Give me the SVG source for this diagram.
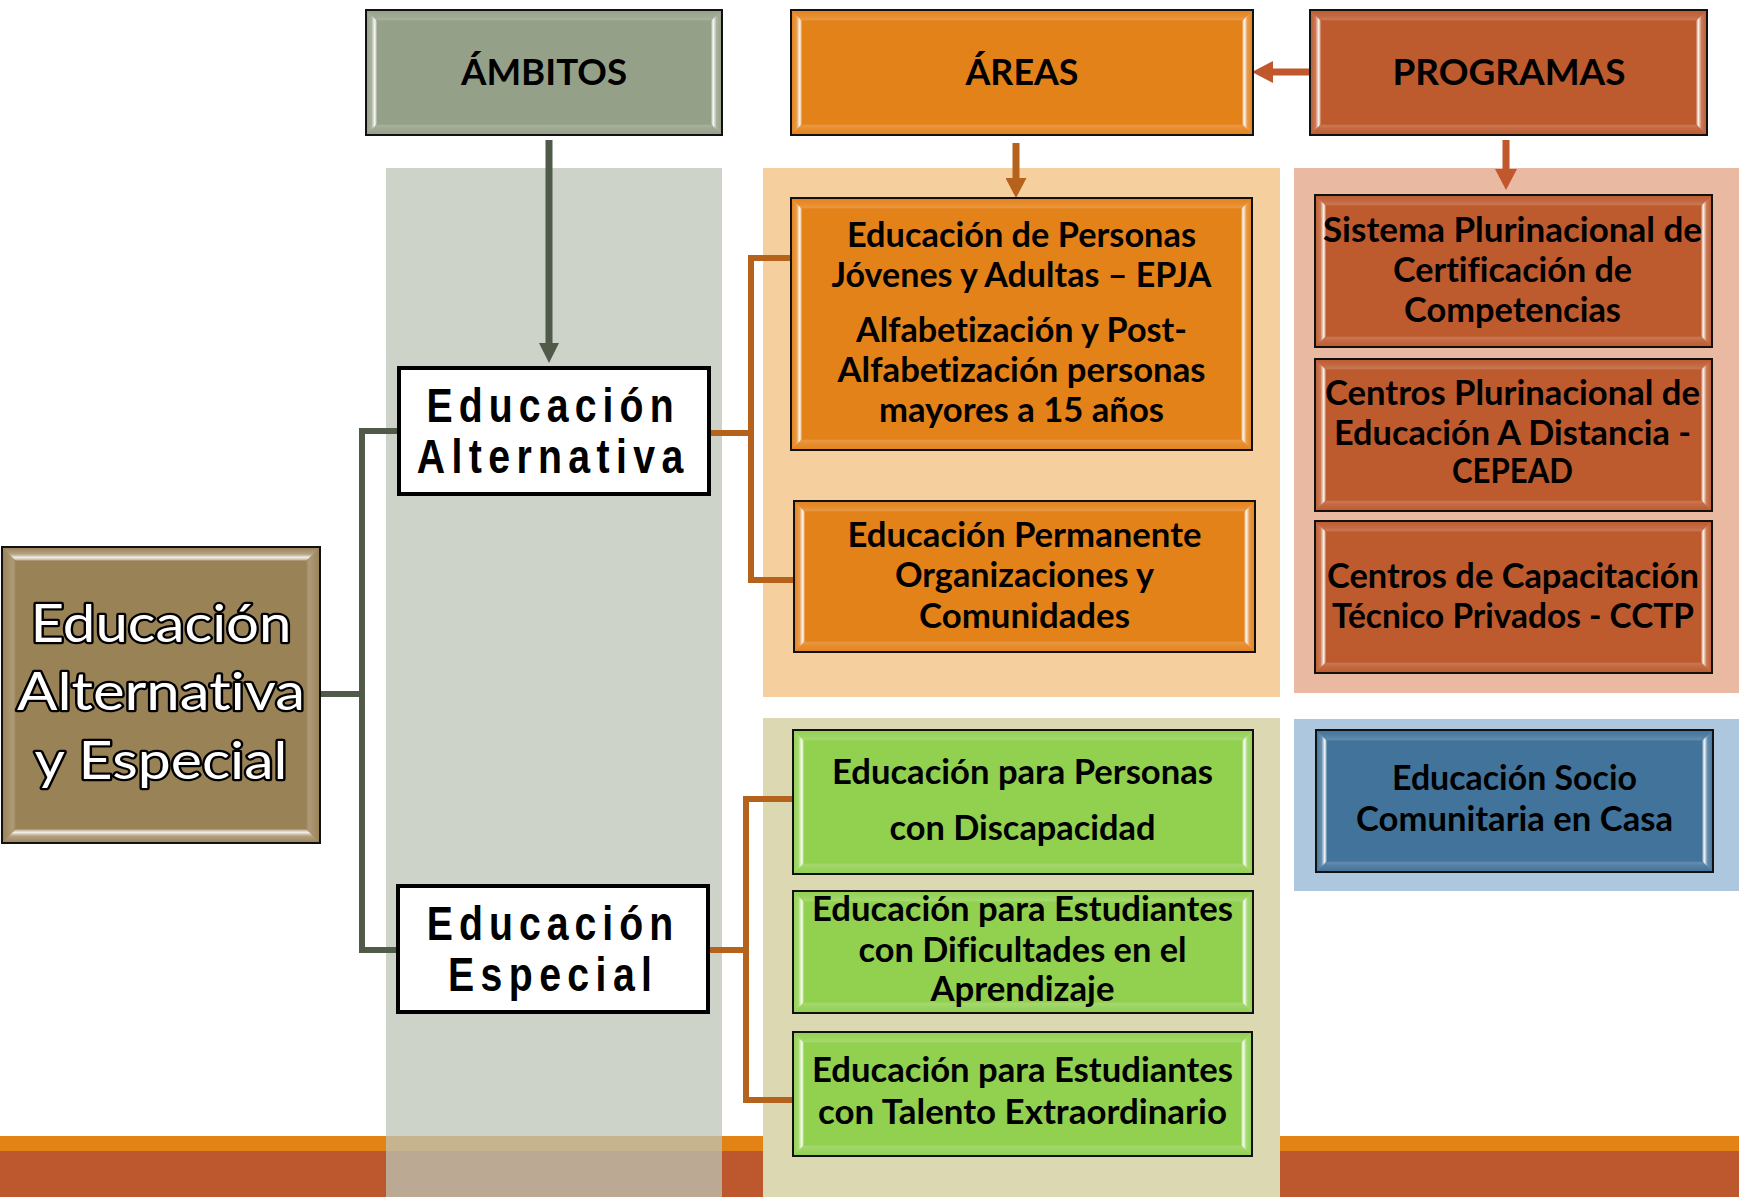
<svg xmlns="http://www.w3.org/2000/svg" width="1739" height="1197" viewBox="0 0 1739 1197">
<style>
.t{font-family:Lato,"Liberation Sans",sans-serif;font-weight:700;font-size:34px;text-anchor:middle;fill:#000;font-variant-ligatures:none;font-feature-settings:"liga" 0,"clig" 0,"dlig" 0,"calt" 0}
.h{font-size:37px}
.big{font-weight:400;font-size:53px;fill:#fff;stroke:#000;stroke-width:4.5px;paint-order:stroke;stroke-linejoin:round}
.e{font-family:"Liberation Sans",Arial,sans-serif;font-weight:700;font-size:49px;text-anchor:middle;fill:#000}
.ol{fill:none;stroke:#111;stroke-width:2}
.wb{fill:#fff;stroke:#000;stroke-width:4}
.bl{fill:url(#gL)}.br{fill:url(#gR)}.bt{fill:url(#gT)}.bb{fill:url(#gB)}
.sbl{fill:url(#gLw)}.sbr{fill:url(#gRw)}.sbt{fill:url(#gTs)}.sbb{fill:url(#gBs)}
.cg{fill:none;stroke:#4f5a48;stroke-width:6}
.co{fill:none;stroke:#b4621c;stroke-width:6}
.cr{fill:none;stroke:#c0572d;stroke-width:7}
</style>
<defs>
<linearGradient id="gL" x1="0" y1="0" x2="1" y2="0"><stop offset="0" stop-color="#fff" stop-opacity="0"/><stop offset="0.5" stop-color="#fff" stop-opacity="0.2"/><stop offset="0.78" stop-color="#fff" stop-opacity="0.9"/><stop offset="0.9" stop-color="#fff" stop-opacity="0.6"/><stop offset="1" stop-color="#fff" stop-opacity="0"/></linearGradient>
<linearGradient id="gR" x1="1" y1="0" x2="0" y2="0"><stop offset="0" stop-color="#fff" stop-opacity="0"/><stop offset="0.5" stop-color="#fff" stop-opacity="0.2"/><stop offset="0.78" stop-color="#fff" stop-opacity="0.9"/><stop offset="0.9" stop-color="#fff" stop-opacity="0.6"/><stop offset="1" stop-color="#fff" stop-opacity="0"/></linearGradient>
<linearGradient id="gT" x1="0" y1="0" x2="0" y2="1"><stop offset="0" stop-color="#fff" stop-opacity="0"/><stop offset="0.6" stop-color="#fff" stop-opacity="0.1"/><stop offset="0.85" stop-color="#fff" stop-opacity="0.18"/><stop offset="1" stop-color="#fff" stop-opacity="0"/></linearGradient>
<linearGradient id="gB" x1="0" y1="1" x2="0" y2="0"><stop offset="0" stop-color="#fff" stop-opacity="0"/><stop offset="0.6" stop-color="#fff" stop-opacity="0.1"/><stop offset="0.85" stop-color="#fff" stop-opacity="0.18"/><stop offset="1" stop-color="#fff" stop-opacity="0"/></linearGradient>
<linearGradient id="gLw" x1="0" y1="0" x2="1" y2="0"><stop offset="0" stop-color="#fff" stop-opacity="0"/><stop offset="0.8" stop-color="#fff" stop-opacity="0.2"/><stop offset="1" stop-color="#fff" stop-opacity="0"/></linearGradient>
<linearGradient id="gRw" x1="1" y1="0" x2="0" y2="0"><stop offset="0" stop-color="#fff" stop-opacity="0"/><stop offset="0.8" stop-color="#fff" stop-opacity="0.2"/><stop offset="1" stop-color="#fff" stop-opacity="0"/></linearGradient>
<linearGradient id="gTs" x1="0" y1="0" x2="0" y2="1"><stop offset="0" stop-color="#fff" stop-opacity="0"/><stop offset="0.5" stop-color="#fff" stop-opacity="0.25"/><stop offset="0.75" stop-color="#fff" stop-opacity="0.85"/><stop offset="0.9" stop-color="#fff" stop-opacity="0.5"/><stop offset="1" stop-color="#fff" stop-opacity="0"/></linearGradient>
<linearGradient id="gBs" x1="0" y1="1" x2="0" y2="0"><stop offset="0" stop-color="#fff" stop-opacity="0"/><stop offset="0.5" stop-color="#fff" stop-opacity="0.25"/><stop offset="0.75" stop-color="#fff" stop-opacity="0.85"/><stop offset="0.9" stop-color="#fff" stop-opacity="0.5"/><stop offset="1" stop-color="#fff" stop-opacity="0"/></linearGradient>
<marker id="mG" markerUnits="userSpaceOnUse" markerWidth="20" markerHeight="20" viewBox="0 0 20 20" refX="6" refY="10" orient="auto"><path d="M0,0 L20,10 L0,20z" fill="#4f5a48"/></marker>
<marker id="mO" markerUnits="userSpaceOnUse" markerWidth="20" markerHeight="21" viewBox="0 0 20 21" refX="6" refY="10.5" orient="auto"><path d="M0,0 L20,10.5 L0,21z" fill="#b4621c"/></marker>
<marker id="mR" markerUnits="userSpaceOnUse" markerWidth="21" markerHeight="22" viewBox="0 0 21 22" refX="7" refY="11" orient="auto"><path d="M0,0 L21,11 L0,22z" fill="#c0572d"/></marker>
</defs>

<rect width="1739" height="1197" fill="#fff"/>
<g id="bands">
<rect x="0" y="1136" width="1739" height="15" fill="#e48315"/>
<rect x="0" y="1151" width="1739" height="46" fill="#bd582e"/>
</g>
<g id="columns">
<rect x="386" y="168" width="336" height="1029" fill="rgb(188,196,183)" fill-opacity="0.75"/>
<rect x="763" y="168" width="517" height="529" fill="#f6cf9f"/>
<rect x="1294" y="168" width="445" height="525" fill="#e9b9a2"/>
<rect x="763" y="718" width="517" height="479" fill="#dcd8b1"/>
<rect x="1294" y="719" width="445" height="172" fill="#adc7de"/>
</g>

<g id="connectors">
<path class="cg" d="M320,694 H362 M399,431 H362 V950 H398"/>
<path class="co" d="M709,433 H751 M791,258 H751 V580 H794"/>
<path class="co" d="M708,950 H746 M793,799 H746 V1100 H793"/>
<path fill="none" stroke="#4f5a48" stroke-width="7" d="M549,140 V349" marker-end="url(#mG)"/>
<path fill="none" stroke="#b4621c" stroke-width="7" d="M1016,143 V184" marker-end="url(#mO)"/>
<path class="cr" d="M1506,140 V176" marker-end="url(#mR)"/>
<path class="cr" d="M1310,72 H1266" marker-end="url(#mR)"/>
</g>

<g id="n-ambitos">
<rect x="366" y="10" width="356" height="125" fill="#95a088"/>
<polygon class="bl" points="366,10 377,21 377,124 366,135"/>
<polygon class="br" points="722,10 711,21 711,124 722,135"/>
<polygon class="bt" points="366,10 722,10 711,21 377,21"/>
<polygon class="bb" points="366,135 722,135 711,124 377,124"/>
<rect class="ol" x="366" y="10" width="356" height="125"/>
<text class="t h" x="544" y="85" textLength="166" lengthAdjust="spacingAndGlyphs">ÁMBITOS</text>
</g>

<g id="n-areas">
<rect x="791" y="10" width="462" height="125" fill="#e4821a"/>
<polygon class="bl" points="791,10 802,21 802,124 791,135"/>
<polygon class="br" points="1253,10 1242,21 1242,124 1253,135"/>
<polygon class="bt" points="791,10 1253,10 1242,21 802,21"/>
<polygon class="bb" points="791,135 1253,135 1242,124 802,124"/>
<rect class="ol" x="791" y="10" width="462" height="125"/>
<text class="t h" x="1022" y="85" textLength="113" lengthAdjust="spacingAndGlyphs">ÁREAS</text>
</g>

<g id="n-programas">
<rect x="1310" y="10" width="397" height="125" fill="#bd5a2e"/>
<polygon class="bl" points="1310,10 1321,21 1321,124 1310,135"/>
<polygon class="br" points="1707,10 1696,21 1696,124 1707,135"/>
<polygon class="bt" points="1310,10 1707,10 1696,21 1321,21"/>
<polygon class="bb" points="1310,135 1707,135 1696,124 1321,124"/>
<rect class="ol" x="1310" y="10" width="397" height="125"/>
<text class="t h" x="1509" y="85" textLength="233" lengthAdjust="spacingAndGlyphs">PROGRAMAS</text>
</g>

<g id="n-raiz">
<rect x="2" y="547" width="318" height="296" fill="#9a8257"/>
<polygon class="sbl" points="2,547 16,561 16,829 2,843"/>
<polygon class="sbr" points="320,547 306,561 306,829 320,843"/>
<polygon class="sbt" points="2,547 320,547 306,561 16,561"/>
<polygon class="sbb" points="2,843 320,843 306,829 16,829"/>
<rect class="ol" x="2" y="547" width="318" height="296"/>
<text class="t big" x="161" y="642" textLength="261" lengthAdjust="spacingAndGlyphs">Educación</text>
<text class="t big" x="161" y="710" textLength="288" lengthAdjust="spacingAndGlyphs">Alternativa</text>
<text class="t big" x="161" y="779" textLength="253" lengthAdjust="spacingAndGlyphs">y Especial</text>
</g>

<g id="n-alternativa">
<rect class="wb" x="399" y="368" width="310" height="126"/>
<g transform="translate(550,0) scale(0.8,1)">
<text class="e" x="0" y="422" textLength="309" lengthAdjust="spacing">Educación</text>
<text class="e" x="0" y="473" textLength="333" lengthAdjust="spacing">Alternativa</text>
</g>
</g>

<g id="n-especial">
<rect class="wb" x="398" y="886" width="310" height="126"/>
<g transform="translate(550,0) scale(0.8,1)">
<text class="e" x="0" y="940" textLength="308" lengthAdjust="spacing">Educación</text>
<text class="e" x="0" y="991" textLength="255" lengthAdjust="spacing">Especial</text>
</g>
</g>

<g id="n-epja">
<rect x="791" y="198" width="461" height="252" fill="#e4821a"/>
<polygon class="bl" points="791,198 802,209 802,439 791,450"/>
<polygon class="br" points="1252,198 1241,209 1241,439 1252,450"/>
<polygon class="bt" points="791,198 1252,198 1241,209 802,209"/>
<polygon class="bb" points="791,450 1252,450 1241,439 802,439"/>
<rect class="ol" x="791" y="198" width="461" height="252"/>
<text class="t" x="1021.5" y="247" textLength="349" lengthAdjust="spacingAndGlyphs">Educación de Personas</text>
<text class="t" x="1021.5" y="287" textLength="380" lengthAdjust="spacingAndGlyphs">Jóvenes y Adultas – EPJA</text>
<text class="t" x="1021.5" y="342" textLength="331" lengthAdjust="spacingAndGlyphs">Alfabetización y Post-</text>
<text class="t" x="1021.5" y="382" textLength="368" lengthAdjust="spacingAndGlyphs">Alfabetización personas</text>
<text class="t" x="1021.5" y="422" textLength="285" lengthAdjust="spacingAndGlyphs">mayores a 15 años</text>
</g>

<g id="n-permanente">
<rect x="794" y="501" width="461" height="151" fill="#e4821a"/>
<polygon class="bl" points="794,501 805,512 805,641 794,652"/>
<polygon class="br" points="1255,501 1244,512 1244,641 1255,652"/>
<polygon class="bt" points="794,501 1255,501 1244,512 805,512"/>
<polygon class="bb" points="794,652 1255,652 1244,641 805,641"/>
<rect class="ol" x="794" y="501" width="461" height="151"/>
<text class="t" x="1024.5" y="547" textLength="354" lengthAdjust="spacingAndGlyphs">Educación Permanente</text>
<text class="t" x="1024.5" y="587" textLength="259" lengthAdjust="spacingAndGlyphs">Organizaciones y</text>
<text class="t" x="1024.5" y="628" textLength="211" lengthAdjust="spacingAndGlyphs">Comunidades</text>
</g>

<g id="n-sistema">
<rect x="1315" y="195" width="397" height="152" fill="#bd5a2e"/>
<polygon class="bl" points="1315,195 1326,206 1326,336 1315,347"/>
<polygon class="br" points="1712,195 1701,206 1701,336 1712,347"/>
<polygon class="bt" points="1315,195 1712,195 1701,206 1326,206"/>
<polygon class="bb" points="1315,347 1712,347 1701,336 1326,336"/>
<rect class="ol" x="1315" y="195" width="397" height="152"/>
<text class="t" x="1512.5" y="242" textLength="379" lengthAdjust="spacingAndGlyphs">Sistema Plurinacional de</text>
<text class="t" x="1512.5" y="282" textLength="239" lengthAdjust="spacingAndGlyphs">Certificación de</text>
<text class="t" x="1512.5" y="322" textLength="217" lengthAdjust="spacingAndGlyphs">Competencias</text>
</g>

<g id="n-cepead">
<rect x="1315" y="359" width="397" height="152" fill="#bd5a2e"/>
<polygon class="bl" points="1315,359 1326,370 1326,500 1315,511"/>
<polygon class="br" points="1712,359 1701,370 1701,500 1712,511"/>
<polygon class="bt" points="1315,359 1712,359 1701,370 1326,370"/>
<polygon class="bb" points="1315,511 1712,511 1701,500 1326,500"/>
<rect class="ol" x="1315" y="359" width="397" height="152"/>
<text class="t" x="1512.5" y="405" textLength="375" lengthAdjust="spacingAndGlyphs">Centros Plurinacional de</text>
<text class="t" x="1512.5" y="445" textLength="357" lengthAdjust="spacingAndGlyphs">Educación A Distancia -</text>
<text class="t" x="1512.5" y="483" textLength="121" lengthAdjust="spacingAndGlyphs">CEPEAD</text>
</g>

<g id="n-cctp">
<rect x="1315" y="521" width="397" height="152" fill="#bd5a2e"/>
<polygon class="bl" points="1315,521 1326,532 1326,662 1315,673"/>
<polygon class="br" points="1712,521 1701,532 1701,662 1712,673"/>
<polygon class="bt" points="1315,521 1712,521 1701,532 1326,532"/>
<polygon class="bb" points="1315,673 1712,673 1701,662 1326,662"/>
<rect class="ol" x="1315" y="521" width="397" height="152"/>
<text class="t" x="1513" y="588" textLength="372" lengthAdjust="spacingAndGlyphs">Centros de Capacitación</text>
<text class="t" x="1513" y="628" textLength="362" lengthAdjust="spacingAndGlyphs">Técnico Privados - CCTP</text>
</g>

<g id="n-discapacidad">
<rect x="793" y="730" width="460" height="144" fill="#92d050"/>
<polygon class="bl" points="793,730 804,741 804,863 793,874"/>
<polygon class="br" points="1253,730 1242,741 1242,863 1253,874"/>
<polygon class="bt" points="793,730 1253,730 1242,741 804,741"/>
<polygon class="bb" points="793,874 1253,874 1242,863 804,863"/>
<rect class="ol" x="793" y="730" width="460" height="144"/>
<text class="t" x="1022.5" y="784" textLength="381" lengthAdjust="spacingAndGlyphs">Educación para Personas</text>
<text class="t" x="1022.5" y="840" textLength="266" lengthAdjust="spacingAndGlyphs">con Discapacidad</text>
</g>

<g id="n-dificultades">
<rect x="793" y="891" width="460" height="122" fill="#92d050"/>
<polygon class="bl" points="793,891 804,902 804,1002 793,1013"/>
<polygon class="br" points="1253,891 1242,902 1242,1002 1253,1013"/>
<polygon class="bt" points="793,891 1253,891 1242,902 804,902"/>
<polygon class="bb" points="793,1013 1253,1013 1242,1002 804,1002"/>
<rect class="ol" x="793" y="891" width="460" height="122"/>
<text class="t" x="1022.5" y="921" textLength="421" lengthAdjust="spacingAndGlyphs">Educación para Estudiantes</text>
<text class="t" x="1022.5" y="962" textLength="328" lengthAdjust="spacingAndGlyphs">con Dificultades en el</text>
<text class="t" x="1022.5" y="1001" textLength="184" lengthAdjust="spacingAndGlyphs">Aprendizaje</text>
</g>

<g id="n-talento">
<rect x="793" y="1032" width="459" height="124" fill="#92d050"/>
<polygon class="bl" points="793,1032 804,1043 804,1145 793,1156"/>
<polygon class="br" points="1252,1032 1241,1043 1241,1145 1252,1156"/>
<polygon class="bt" points="793,1032 1252,1032 1241,1043 804,1043"/>
<polygon class="bb" points="793,1156 1252,1156 1241,1145 804,1145"/>
<rect class="ol" x="793" y="1032" width="459" height="124"/>
<text class="t" x="1022.5" y="1082" textLength="421" lengthAdjust="spacingAndGlyphs">Educación para Estudiantes</text>
<text class="t" x="1022.5" y="1124" textLength="409" lengthAdjust="spacingAndGlyphs">con Talento Extraordinario</text>
</g>

<g id="n-sociocomunitaria">
<rect x="1316" y="730" width="397" height="142" fill="#41739b"/>
<polygon class="bl" points="1316,730 1327,741 1327,861 1316,872"/>
<polygon class="br" points="1713,730 1702,741 1702,861 1713,872"/>
<polygon class="bt" points="1316,730 1713,730 1702,741 1327,741"/>
<polygon class="bb" points="1316,872 1713,872 1702,861 1327,861"/>
<rect class="ol" x="1316" y="730" width="397" height="142"/>
<text class="t" x="1514.5" y="790" textLength="245" lengthAdjust="spacingAndGlyphs">Educación Socio</text>
<text class="t" x="1514.5" y="831" textLength="317" lengthAdjust="spacingAndGlyphs">Comunitaria en Casa</text>
</g>
</svg>
